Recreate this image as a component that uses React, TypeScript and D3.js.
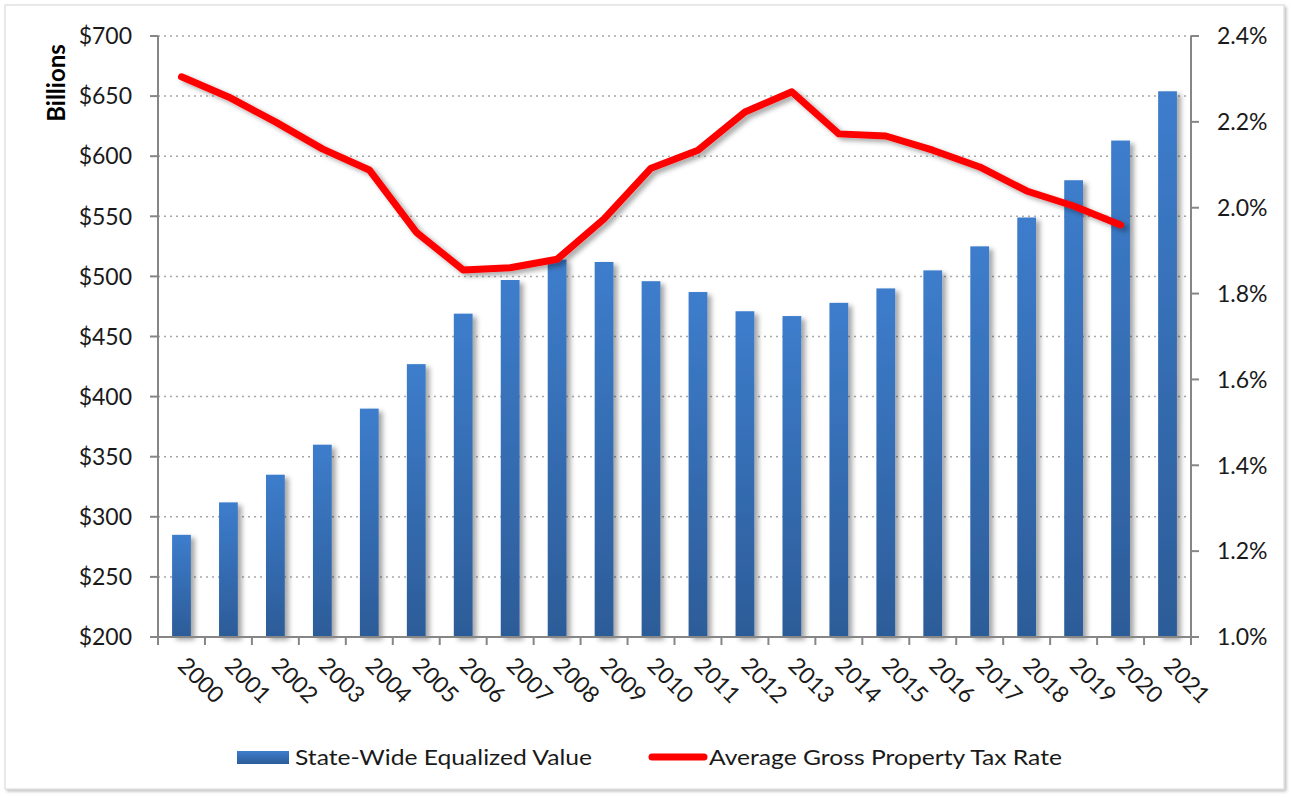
import React from 'react';
import * as d3 from 'd3';

const years = [
  '2000', '2001', '2002', '2003', '2004', '2005', '2006', '2007', '2008', '2009', '2010',
  '2011', '2012', '2013', '2014', '2015', '2016', '2017', '2018', '2019', '2020', '2021',
];
// State-wide equalized value, billions $
const equalizedValue = [
  285, 312, 335, 360, 390, 427, 469, 497, 514, 512, 496,
  487, 471, 467, 478, 490, 505, 525, 549, 580, 613, 654,
];
// Average gross property tax rate, % (no value for 2021)
const taxRate: (number | null)[] = [
  2.305, 2.258, 2.2, 2.137, 2.088, 1.943, 1.855, 1.86, 1.88, 1.974, 2.092,
  2.134, 2.223, 2.27, 2.172, 2.167, 2.134, 2.095, 2.039, 2.004, 1.96, null,
];
const leftTicks = [200, 250, 300, 350, 400, 450, 500, 550, 600, 650, 700];
const rightTicks = [1.0, 1.2, 1.4, 1.6, 1.8, 2.0, 2.2, 2.4];

const W = 1291;
const H = 797;
const margin = { top: 36, right: 100, bottom: 160, left: 158 };
const FONT = 'Lato, "Open Sans", sans-serif';

export default function App() {
  const x = d3
    .scaleBand<string>()
    .domain(years)
    .range([margin.left, W - margin.right])
    .paddingInner(0.6)
    .paddingOuter(0.3);
  const step = x.step();
  const yL = d3.scaleLinear().domain([200, 700]).range([H - margin.bottom, margin.top]);
  const yR = d3.scaleLinear().domain([1.0, 2.4]).range([H - margin.bottom, margin.top]);
  const x0 = margin.left;
  const x1 = W - margin.right;
  const yb = H - margin.bottom;

  const line = d3
    .line<number | null>()
    .defined((d) => d != null)
    .x((_, i) => x(years[i])! + x.bandwidth() / 2)
    .y((d) => yR(d as number));

  return (
    <svg
      width={W}
      height={H}
      style={{ position: 'absolute', left: 0, top: 0, background: '#fff' }}
      fontFamily={FONT}
    >
      <defs>
        <linearGradient id="barGrad" x1="0" y1="0" x2="0" y2="1">
          <stop offset="0%" stopColor="#3d7dcc" />
          <stop offset="100%" stopColor="#2c5c98" />
        </linearGradient>
        <filter id="shadow" x="-30%" y="-10%" width="180%" height="130%">
          <feDropShadow dx="4" dy="3" stdDeviation="2.5" floodColor="#000" floodOpacity="0.35" />
        </filter>
        <filter id="frameShadow" x="-2%" y="-2%" width="104%" height="104%">
          <feDropShadow dx="2" dy="2" stdDeviation="1.5" floodColor="#000" floodOpacity="0.25" />
        </filter>
      </defs>

      <rect x={5} y={5} width={1279} height={784} fill="#fff" stroke="#d6d6d6" strokeWidth={1} filter="url(#frameShadow)" />

      {/* gridlines */}
      {leftTicks.slice(1).map((t) => (
        <line key={t} x1={x0} x2={x1} y1={yL(t)} y2={yL(t)} stroke="#a6a6a6" strokeWidth={1.5} strokeDasharray="2,4" />
      ))}

      {/* bars */}
      {equalizedValue.map((v, i) => (
        <rect
          key={years[i]}
          x={x(years[i])}
          y={yL(v)}
          width={x.bandwidth()}
          height={yb - yL(v)}
          fill="url(#barGrad)"
          filter="url(#shadow)"
        />
      ))}

      {/* line */}
      <path d={line(taxRate) || ''} fill="none" stroke="#ff0000" strokeWidth={7} strokeLinejoin="round" strokeLinecap="round" filter="url(#shadow)" />

      {/* left axis */}
      <line x1={x0} x2={x0} y1={margin.top} y2={yb} stroke="#868686" strokeWidth={2} />
      {leftTicks.map((t) => (
        <g key={t}>
          <line x1={x0 - 8} x2={x0} y1={yL(t)} y2={yL(t)} stroke="#868686" strokeWidth={2} />
          <text x={x0 - 26} y={yL(t)} dy="0.36em" textAnchor="end" fontSize={23} fill="#1a1a1a">
            {'$' + t}
          </text>
        </g>
      ))}

      {/* right axis */}
      <line x1={x1} x2={x1} y1={margin.top} y2={yb} stroke="#868686" strokeWidth={2} />
      {rightTicks.map((t) => (
        <g key={t}>
          <line x1={x1} x2={x1 + 8} y1={yR(t)} y2={yR(t)} stroke="#868686" strokeWidth={2} />
          <text x={x1 + 26} y={yR(t)} dy="0.36em" textAnchor="start" fontSize={23} fill="#1a1a1a">
            {t.toFixed(1) + '%'}
          </text>
        </g>
      ))}

      {/* bottom axis */}
      <line x1={x0} x2={x1} y1={yb} y2={yb} stroke="#868686" strokeWidth={2} />
      {d3.range(years.length + 1).map((i) => (
        <line key={i} x1={x0 + i * step} x2={x0 + i * step} y1={yb} y2={yb + 8} stroke="#868686" strokeWidth={2} />
      ))}
      {years.map((yr) => {
        const cx = x(yr)! + x.bandwidth() / 2 - 5;
        const cy = yb + 30;
        return (
          <text key={yr} x={cx} y={cy} transform={`rotate(45,${cx},${cy})`} fontSize={23} fill="#1a1a1a">
            {yr}
          </text>
        );
      })}

      {/* axis title */}
      <text transform={`translate(65,${83}) rotate(-90)`} textAnchor="middle" fontSize={24} fontWeight="bold" fill="#000">
        Billions
      </text>

      {/* legend */}
      <rect x={237} y={751} width={52} height={13} fill="url(#barGrad)" />
      <text x={295} y={765} fontSize={22} fill="#1a1a1a" textLength={297} lengthAdjust="spacingAndGlyphs">
        State-Wide Equalized Value
      </text>
      <line x1={652} x2={704} y1={757} y2={757} stroke="#ff0000" strokeWidth={7} strokeLinecap="round" />
      <text x={709} y={765} fontSize={22} fill="#1a1a1a" textLength={353} lengthAdjust="spacingAndGlyphs">
        Average Gross Property Tax Rate
      </text>
    </svg>
  );
}
